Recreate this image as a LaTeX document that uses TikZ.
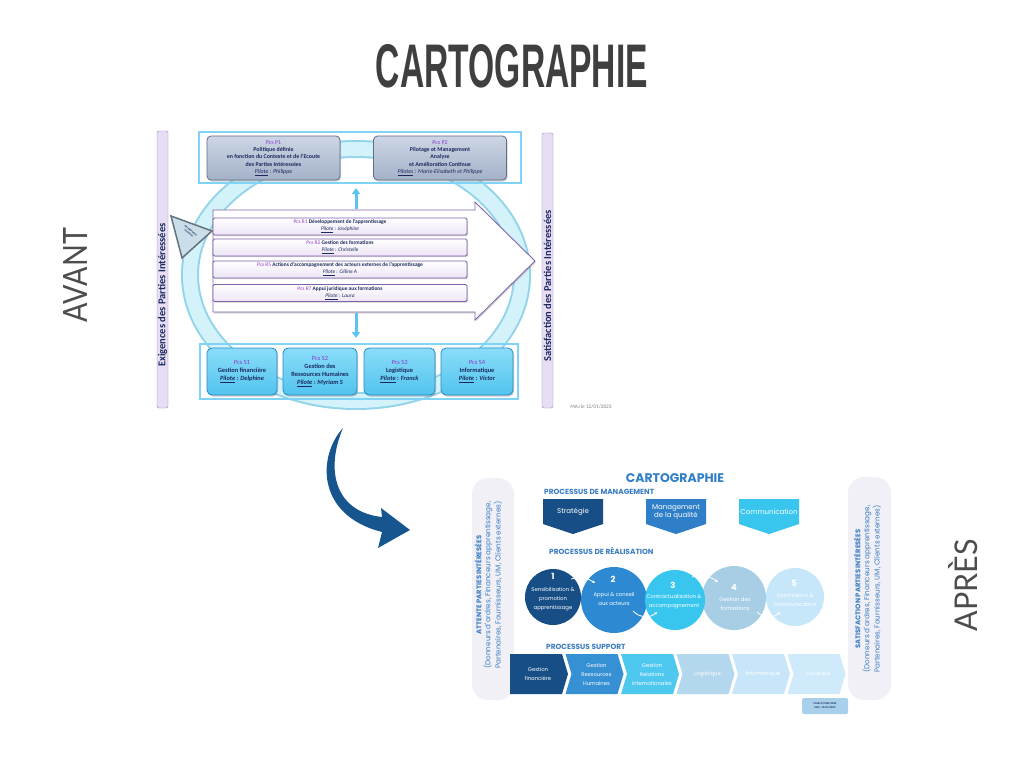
\documentclass[tikz,border=0pt]{standalone}
\usepackage{fontspec}
\usepackage{graphicx}
\setmainfont{Carlito}
\newfontfamily\pop{Poppins}
\newfontfamily\lib{Liberation Sans}
\newfontfamily\latof{Lato}
\usetikzlibrary{arrows.meta,shadows}
\definecolor{navy}{HTML}{1B2A5E}
\definecolor{pcs}{HTML}{8E35C8}
\definecolor{barfill}{HTML}{E8DEF4}
\definecolor{barline}{HTML}{9A7EC2}
\definecolor{pgtop}{HTML}{CDD6E5}
\definecolor{pgbot}{HTML}{A3B1C8}
\definecolor{pgline}{HTML}{5E6D88}
\definecolor{rline}{HTML}{7D62A8}
\definecolor{rfill}{HTML}{EDE4F5}
\definecolor{stop}{HTML}{8ADDF9}
\definecolor{sbot}{HTML}{52C3EE}
\definecolor{sline}{HTML}{2A8CBF}
\definecolor{framec}{HTML}{7FD3F7}
\definecolor{ringedge}{HTML}{92D4EA}
\definecolor{ringfill}{HTML}{D4F2FA}
\definecolor{vert}{HTML}{5BC4F0}
\definecolor{trifill}{HTML}{C9DEE8}
\definecolor{trigray}{HTML}{66737F}
\definecolor{dblue}{HTML}{174E86}
\definecolor{mblue}{HTML}{2F7FC8}
\definecolor{c2blue}{HTML}{2D8AD2}
\definecolor{cblue}{HTML}{38C6EF}
\definecolor{lblue}{HTML}{A8CEE6}
\definecolor{pblue}{HTML}{C6E6FA}
\definecolor{ch2}{HTML}{3690D4}
\definecolor{ch3}{HTML}{4EC8EF}
\definecolor{ch4}{HTML}{B3D7EC}
\definecolor{ch5}{HTML}{C8E6F9}
\definecolor{ch6}{HTML}{CFEAFB}
\definecolor{head}{HTML}{3A7CC3}
\definecolor{pillc}{HTML}{F0F0F6}
\definecolor{arrowblue}{HTML}{17558F}
\definecolor{titlegray}{HTML}{3F3F3F}
\definecolor{avgray}{HTML}{4D4D4D}
\definecolor{footb}{HTML}{A9D0EA}
\newcommand\pil[2]{\textit{\underline{#1}} : \textit{#2}}
\newcommand\pc[1]{{\color{pcs}\mdseries Pcs #1}}
\newcommand\chev[4]{%
  \fill[#2] (#1,654) -- ({#1+52},654) -- ({#1+58},674) -- ({#1+52},694) -- (#1,694) -- ({#1+6},674) -- cycle;
  \node[ctext] (#4) at ({#1+31},674) {#3};}
\tikzset{
  pbox/.style={draw=pgline, line width=0.8, rounded corners=4, top color=pgtop, bottom color=pgbot,
    drop shadow={shadow xshift=1pt, shadow yshift=-1.5pt, opacity=0.35}, align=center, text=navy,
    inner sep=0, minimum height=44, font=\bfseries\fontsize{5.9}{7.3}\selectfont},
  rbox/.style={draw=rline, line width=0.8, rounded corners=1.5, top color=white, bottom color=rfill,
    drop shadow={shadow xshift=1pt, shadow yshift=-1.2pt, opacity=0.35}, align=center, text=navy,
    inner sep=0, minimum width=254, minimum height=17, font=\bfseries\fontsize{5.4}{7}\selectfont},
  sbox/.style={draw=sline, line width=0.8, rounded corners=5, top color=stop, bottom color=sbot,
    drop shadow={shadow xshift=1pt, shadow yshift=-1.5pt, opacity=0.4}, align=center, text=navy,
    inner sep=0, minimum height=47, font=\bfseries\fontsize{6.4}{8.2}\selectfont},
  bartext/.style={rotate=90, text=navy, font=\bfseries\fontsize{10.5}{12}\selectfont},
  vline/.style={vert, line width=3, -{Triangle[length=6pt,width=8pt]}},
  phead/.style={anchor=west, inner sep=0, text=head, font=\pop\bfseries\fontsize{7.4}{9}\selectfont},
  mtext/.style={text=white, align=center, inner sep=0, font=\pop\fontsize{7}{8.5}\selectfont},
  ctext/.style={text=white, align=center, inner sep=0, font=\pop\fontsize{5.3}{9}\selectfont},
  cnum/.style={text=white, inner sep=0, font=\pop\bfseries\fontsize{8.5}{9}\selectfont},
  ptext/.style={rotate=90, text=head, font=\pop\fontsize{7.2}{9}\selectfont},
  pbold/.style={rotate=90, text=head, font=\pop\bfseries\fontsize{6.8}{8}\selectfont},
  smallarr/.style={white, line width=0.8, -{Stealth[length=3pt,width=3pt]}}
}
\begin{document}
\begin{tikzpicture}[x=1pt,y=-1pt]
\useasboundingbox (0,0) rectangle (1024,768);
\fill[white] (0,0) rectangle (1024,768);

% titles
\node[text=titlegray, inner sep=0] (title) at (512,66) {\resizebox{272pt}{43pt}{\lib\bfseries CARTOGRAPHIE}};
\node[rotate=90, text=avgray, inner sep=0] (avant) at (75,275) {\resizebox{94pt}{24pt}{\latof AVANT}};
\node[rotate=90, text=avgray, inner sep=0] (apres) at (963,585) {\resizebox{92pt}{29pt}{\latof APRÈS}};

% ===== AVANT diagram =====
\draw[ringedge, line width=18] (356,275) ellipse [x radius=166, y radius=126];
\draw[ringfill, line width=14] (356,275) ellipse [x radius=166, y radius=126];

\draw[barline, fill=barfill, rounded corners=2] (157,131) rectangle (168,408);
\node[bartext] (exig) at (162.5,295) {Exigences des Parties Intéressées};
\draw[barline, fill=barfill, rounded corners=2] (542,133) rectangle (553,408);
\node[bartext] (satis) at (547.5,286) {Satisfaction des Parties Intéressées};

\draw[framec, line width=1.2] (199,132) rectangle (521,183);
\draw[framec, line width=1.2] (200,344) rectangle (518,399);

\node[pbox, minimum width=133] (p1) at (273.5,158) {\pc{P1}\\Politique définie\\en fonction du Contexte et de l'Ecoute\\des Parties Intéressées\\{\mdseries\pil{Pilote}{Philippe}}};
\node[pbox, minimum width=133] (p2) at (440,158) {\pc{P2}\\Pilotage et Management\\Analyse\\et Amélioration Continue\\{\mdseries\pil{Pilotes}{Marie-Elisabeth et Philippe}}};

\node[sbox, minimum width=70] (s1) at (242,371.5) {\pc{S1}\\Gestion financière\\\pil{Pilote}{Delphine}};
\node[sbox, minimum width=74] (s2) at (320,371.5) {\pc{S2}\\Gestion des\\Ressources Humaines\\\pil{Pilote}{Myriam S}};
\node[sbox, minimum width=71] (s3) at (399.5,371.5) {\pc{S3}\\Logistique\\\pil{Pilote}{Franck}};
\node[sbox, minimum width=72] (s4) at (477,371.5) {\pc{S4}\\Informatique\\\pil{Pilote}{Victor}};

\draw[rline, line width=0.9, fill=white, drop shadow={shadow xshift=1pt, shadow yshift=-1.5pt, opacity=0.3}]
  (213,210) -- (475,210) -- (475,202) -- (535,261) -- (475,320) -- (475,312) -- (213,312) -- cycle;

\node[rbox] (r1) at (340,226.5) {\pc{R1} Développement de l'apprentissage\\{\mdseries\pil{Pilote}{Joséphine}}};
\node[rbox] (r2) at (340,247.5) {\pc{R2} Gestion des formations\\{\mdseries\pil{Pilote}{Christelle}}};
\node[rbox] (r5) at (340,269.5) {\pc{R5} Actions d'accompagnement des acteurs externes de l'apprentissage\\{\mdseries\pil{Pilote}{Céline A}}};
\node[rbox] (r7) at (340,293) {\pc{R7} Appui juridique aux formations\\{\mdseries\pil{Pilote}{Laura}}};

\coordinate (upA) at (356,209);
\coordinate (upB) at (356,188);
\coordinate (dnA) at (356,313);
\coordinate (dnB) at (356,338);
\draw[vline] (upA) -- (upB);
\draw[vline] (dnA) -- (dnB);

\draw[trigray, line width=1.5, fill=trifill] (171,216) -- (212,231) -- (182,258) -- cycle;
\node[rotate=-38, align=center, text=navy, inner sep=0, font=\bfseries\fontsize{2.8}{3.2}\selectfont] (amel) at (190,232) {Amélioration\\Continue};

\node[text=gray, inner sep=0, font=\fontsize{5.3}{6}\selectfont] (maj) at (591,407) {MAJ le 12/01/2023};

% curved arrow
\fill[arrowblue] (343,428) .. controls (318,455) and (315,515) .. (382,532) -- (378,548) -- (410,530) -- (381,508) -- (382,517) .. controls (335,512) and (325,470) .. (343,428) -- cycle;

% ===== APRES diagram =====
\fill[pillc, rounded corners=16] (472,478) rectangle (514,700);
\fill[pillc, rounded corners=16] (848,477) rectangle (891,700);
\node[pbold] (attA) at (478,585) {ATTENTE PARTIES INTÉRESÉES};
\node[ptext] (attB) at (488,585) {(Donneurs d'ordres, Financeurs apprentissage,};
\node[ptext] (attC) at (498,585) {Partenaires, Fournisseurs, UM, Clients externes)};
\node[pbold] (satA) at (857,589) {SATISFACTION PARTIES INTÉRESÉES};
\node[ptext] (satB) at (867,589) {(Donneurs d'ordres, Financeurs apprentissage,};
\node[ptext] (satC) at (877,589) {Partenaires, Fournisseurs, UM, Clients externes)};

\node[text=mblue, inner sep=0, font=\pop\bfseries\fontsize{12.5}{14}\selectfont] (title2) at (675,478) {CARTOGRAPHIE};
\node[phead] (hman) at (544,492) {PROCESSUS DE MANAGEMENT};
\node[phead] (hrea) at (549,551) {PROCESSUS DE RÉALISATION};
\node[phead] (hsup) at (546,647) {PROCESSUS SUPPORT};

\fill[dblue] (543,499) -- (603,499) -- (603,524) -- (573,534) -- (543,524) -- cycle;
\node[mtext] (strat) at (573,512) {Stratégie};
\fill[mblue] (646,499) -- (706,499) -- (706,524) -- (676,534) -- (646,524) -- cycle;
\node[mtext] (qual) at (676,512) {Management\\de la qualité};
\fill[cblue] (739,499) -- (799,499) -- (799,524) -- (769,534) -- (739,524) -- cycle;
\node[mtext] (comm) at (769,512) {Communication};

\fill[c2blue] (614,600) circle [radius=33];
\fill[dblue] (553,597) circle [radius=28];
\fill[lblue] (734,598) circle [radius=32];
\fill[cblue] (675,600) circle [radius=30];
\fill[pblue] (795,597) circle [radius=29];
\node[cnum] (n1) at (553,576) {1};
\node[ctext] (t1) at (553,599) {Sensibilisation \&\\promotion\\apprentissage};
\node[cnum] (n2) at (613,579) {2};
\node[ctext] (t2) at (614,598.5) {Appui \& conseil\\aux acteurs};
\node[cnum] (n3) at (673,585) {3};
\node[ctext] (t3) at (674,601.5) {Contractualisation \&\\accompagnement};
\node[cnum] (n4) at (734,587) {4};
\node[ctext] (t4) at (735,603.5) {Gestion des\\formations};
\node[cnum] (n5) at (794,583) {5};
\node[ctext] (t5) at (795,600) {Valorisation \&\\communication};

\coordinate (a1) at (571,579); \coordinate (b1) at (595,583);
\coordinate (a2) at (633,611); \coordinate (b2) at (657,612);
\coordinate (a3) at (692,577); \coordinate (b3) at (718,582);
\coordinate (a4) at (757,612); \coordinate (b4) at (780,612);
\draw[smallarr] (a1) to[bend left=25] (b1);
\draw[smallarr] (a2) to[bend right=45] (b2);
\draw[smallarr] (a3) to[bend left=25] (b3);
\draw[smallarr] (a4) to[bend right=45] (b4);

\fill[dblue] (510,654) -- (562,654) -- (568,674) -- (562,694) -- (510,694) -- cycle;
\node[ctext] (g1) at (538,674) {Gestion\\financière};
\chev{565.5}{ch2}{Gestion\\Ressources\\Humaines}{g2}
\chev{621}{ch3}{Gestion\\Relations\\internationales}{g3}
\chev{676.5}{ch4}{Logistique}{g4}
\chev{732}{ch5}{Informatique}{g5}
\chev{787.5}{ch6}{Juridique}{g6}

\fill[footb, rounded corners=1.5] (802,698) rectangle (848,714);
\node[align=center, text=navy, inner sep=0, font=\bfseries\fontsize{2.8}{4}\selectfont] (foot) at (825,706) {CAHE-CT/SAD/2023\\MAJ : 15/03/2023};
\end{tikzpicture}
\end{document}
